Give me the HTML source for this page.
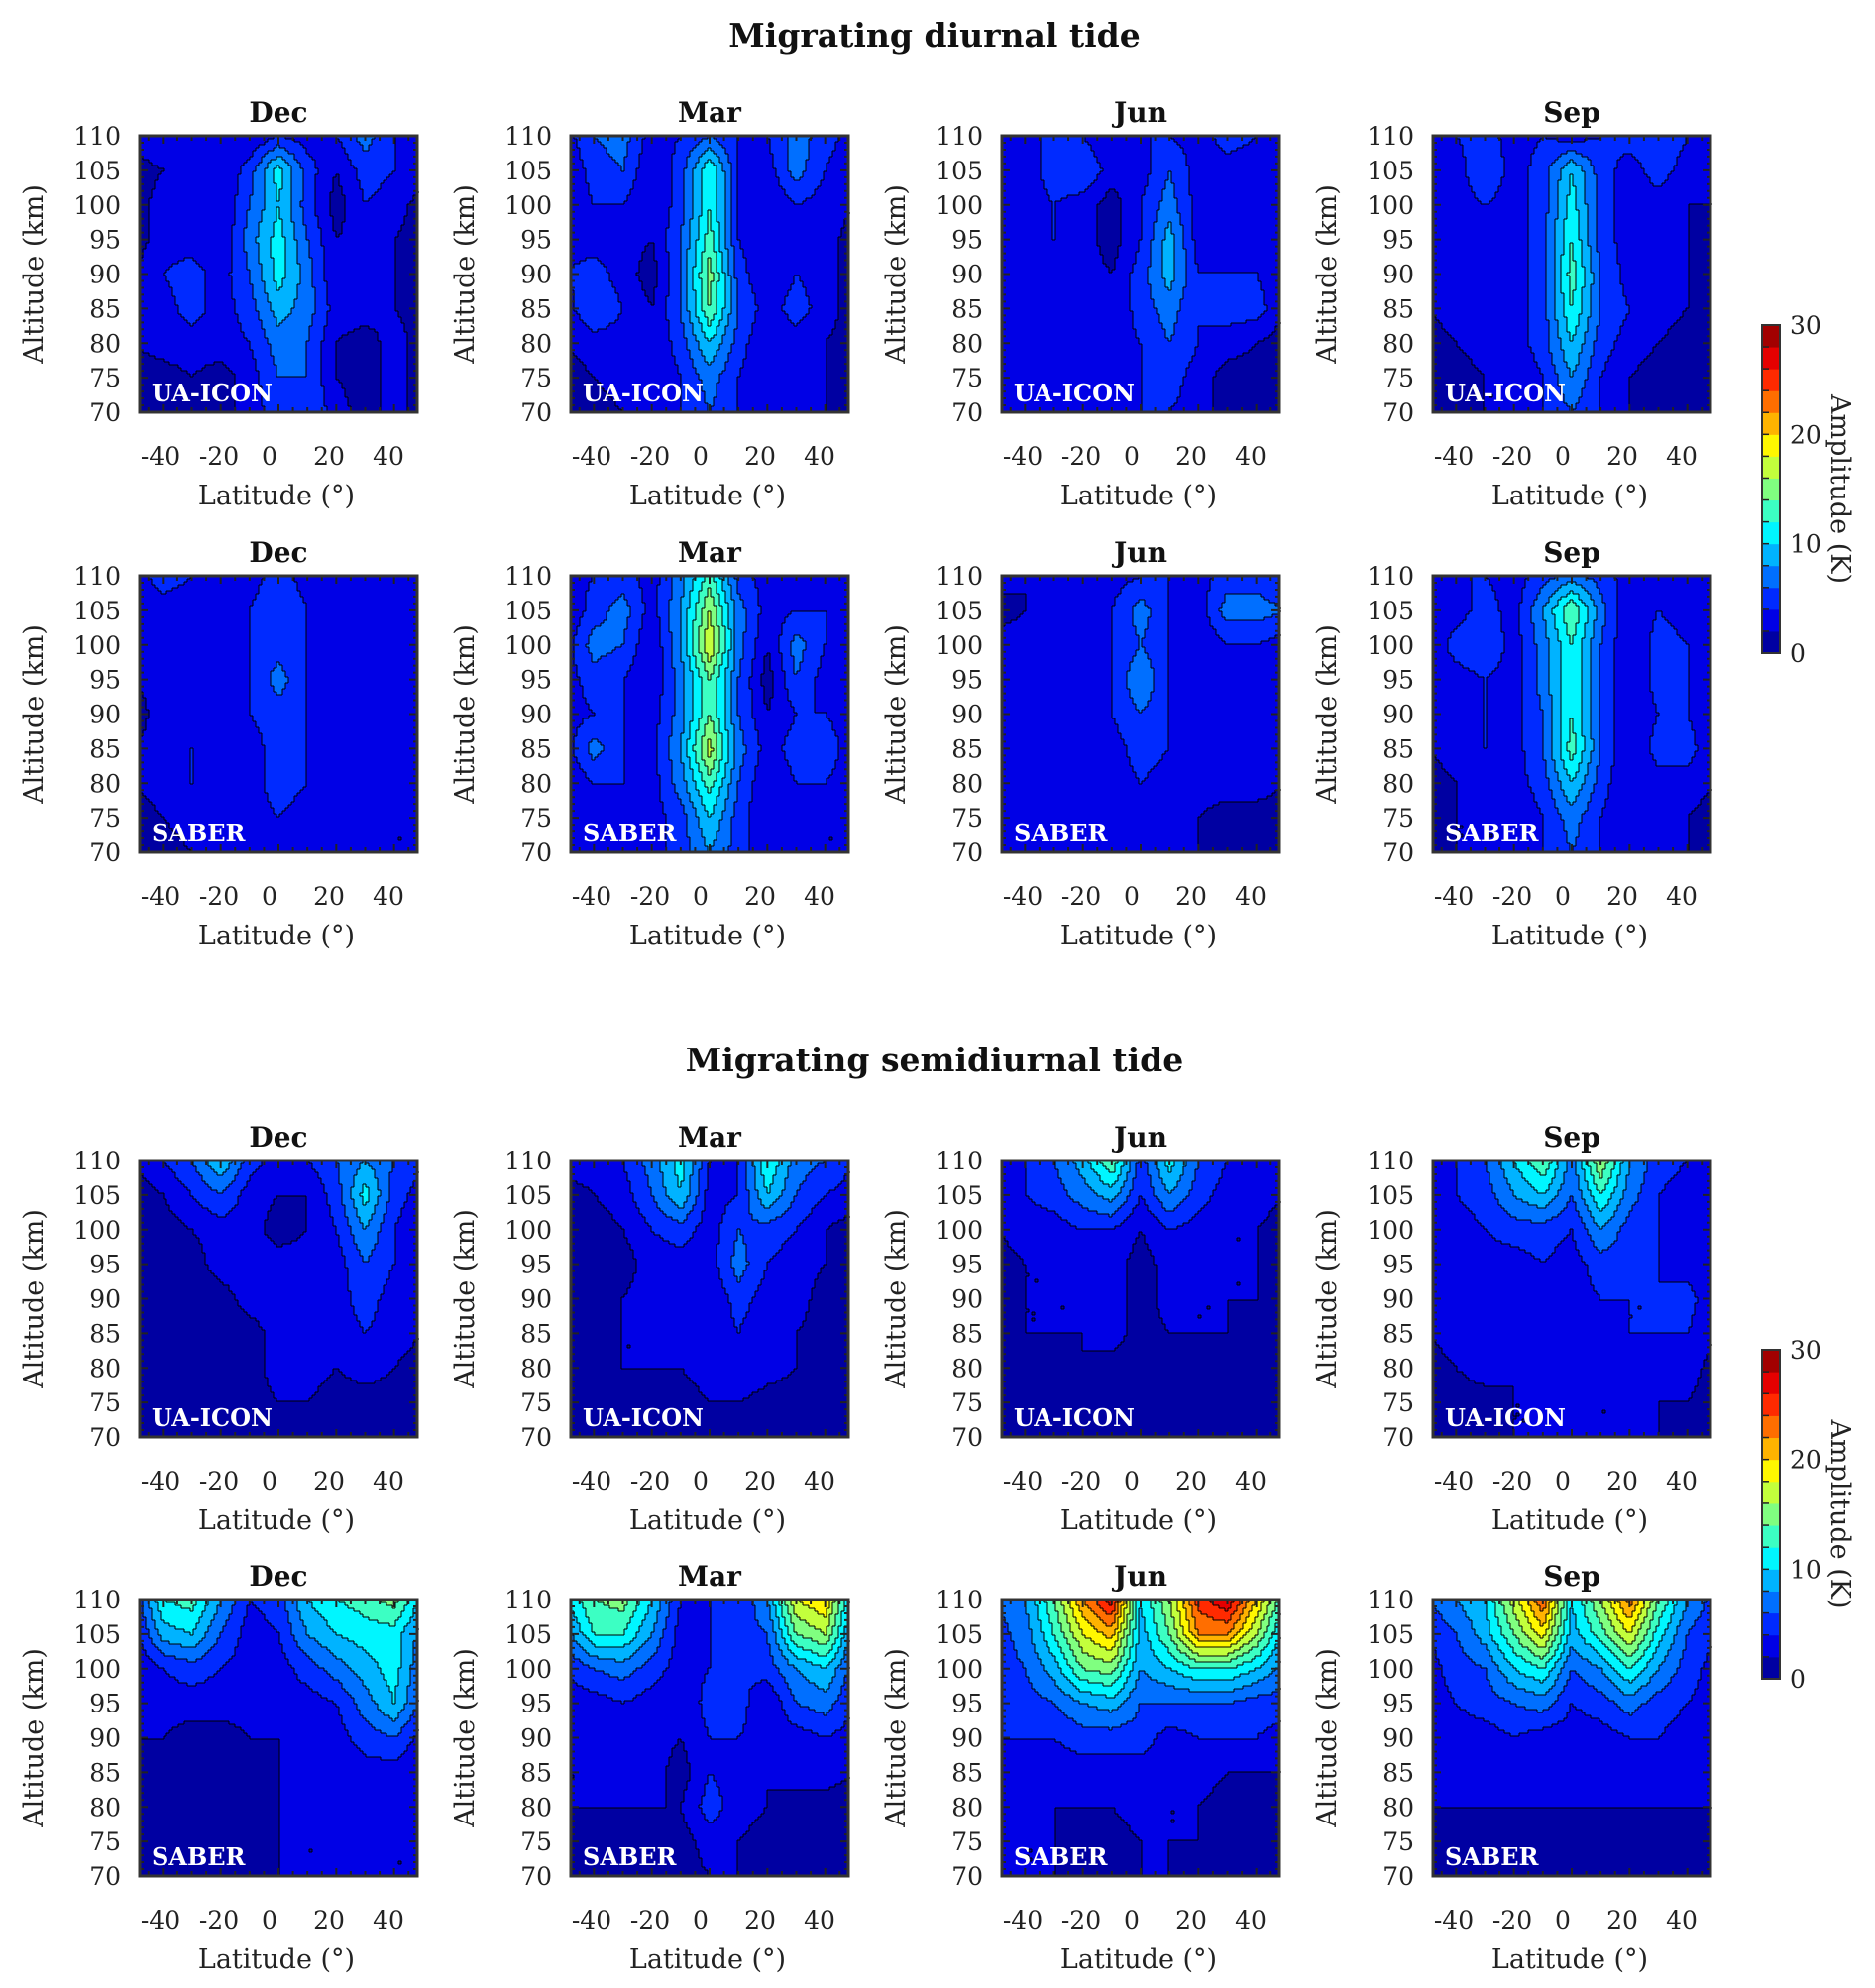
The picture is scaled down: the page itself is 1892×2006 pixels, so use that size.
<!DOCTYPE html>
<html><head><meta charset="utf-8">
<style>
body{margin:0;background:#fff;width:1892px;height:2006px;overflow:hidden;font-family:"DejaVu Serif","Liberation Serif",serif;}
svg{position:absolute;left:0;top:0}
text{font-family:"DejaVu Serif","Liberation Serif",serif;}
</style></head><body>
<svg id="fig" width="1892" height="2006" xmlns="http://www.w3.org/2000/svg"></svg>
<script>
const lats=[-50,-40,-30,-20,-10,0,10,20,30,40,50];
const alts=[110,105,100,95,90,85,80,75,70];
const levels=[0,2,4,6,8,10,12,14,16,18,20,22,24,26,28,30];
const xTicks=[-40,-20,0,20,40];
const yTicks=[110,105,100,95,90,85,80,75,70];
const months=["Dec","Mar","Jun","Sep"];
const dIconDec=[[3,4,3,3,2,4,3,4,7,4,3],[1,2,3,2,5,11,5,2,5,4,3],[1,3,4,2,6,10,5,1,4,3,1],[1,3,3,2,7,11,6,2,3,2,1],[2,4,5,3,6,11,7,2,3,2,1],[2,3,5,3,5,9,7,3,3,2,1],[2,3,3,3,4,7,6,2,1,3,1],[1,1,2,1,3,6,6,2,1,3,1],[1,1,1,1,3,5,6,3,1,3,1]];
const dIconMar=[[3,6,7,3,4,6,4,4,7,5,3],[2,5,6,2,5,12,4,3,7,4,2],[2,4,4,2,5,12,4,2,4,3,2],[3,3,3,2,6,13,4,2,3,3,1],[4,5,3,1,6,15,5,2,4,3,1],[3,6,4,2,6,14,6,3,5,3,1],[2,3,3,2,5,10,5,2,3,2,1],[1,2,3,2,4,7,4,2,2,2,1],[1,1,2,2,4,6,4,2,2,2,1]];
const dIconJun=[[2,3,5,4,2,4,4,3,5,4,3],[2,3,5,6,3,3,6,3,3,3,2],[2,3,4,3,1,4,7,3,3,3,2],[2,3,4,3,1,4,9,3,3,3,2],[2,3,3,3,2,5,9,4,4,4,2],[2,3,3,3,2,5,7,4,5,5,2],[2,3,3,3,3,4,6,4,3,2,1],[2,3,3,3,3,4,5,3,1,1,1],[2,3,3,3,3,4,4,3,1,1,1]];
const dIconSep=[[3,4,5,3,4,3,4,5,6,4,3],[2,3,6,3,5,10,5,3,5,3,2],[2,3,4,3,5,11,5,3,3,2,2],[2,3,3,3,5,12,5,3,3,2,1],[2,3,3,3,5,13,6,3,3,2,1],[2,3,3,3,5,12,6,4,3,2,1],[1,2,3,3,5,10,5,3,2,1,1],[1,1,2,2,4,8,4,2,1,1,1],[1,1,2,2,4,6,4,2,1,1,1]];
const dSabDec=[[3,5,4,3,3,5,3,3,3,4,3],[3,3,3,2,4,6,4,3,2,2,3],[2,4,3,2,4,5,4,3,2,3,3],[2,3,3,2,4,7,4,2,3,2,3],[1,3,3,2,4,5,4,3,2,2,2],[2,3,4,2,3,5,4,3,2,3,2],[2,3,4,2,3,5,4,3,2,3,2],[1,2,3,2,3,4,3,2,2,2,2],[1,1,2,2,3,4,3,2,2,2,2]];
const dSabMar=[[3,4,5,3,7,13,5,3,4,3,3],[2,5,7,3,8,16,7,3,4,4,2],[3,7,6,2,8,18,7,2,7,4,2],[3,5,4,2,7,14,6,1,6,3,2],[3,4,4,3,7,14,6,2,4,4,3],[3,7,4,3,8,17,7,3,5,5,3],[2,4,4,3,7,13,6,2,4,4,3],[2,3,3,3,5,10,5,2,3,2,2],[2,3,3,3,5,8,5,2,2,2,2]];
const dSabJun=[[3,2,3,4,3,4,4,3,5,5,4],[1,2,3,3,4,7,4,3,7,7,6],[3,3,3,3,4,6,4,2,4,4,3],[2,3,3,3,4,8,4,2,4,3,2],[2,3,3,3,4,6,4,2,3,3,3],[2,3,4,3,3,5,4,3,3,3,3],[2,3,3,3,3,4,3,3,3,3,2],[2,2,3,3,3,4,3,2,1,1,1],[2,2,3,3,3,4,3,2,1,1,1]];
const dSabSep=[[3,4,4,3,5,7,5,3,4,2,3],[2,3,5,3,8,14,7,2,4,3,3],[2,5,6,3,7,12,6,2,5,4,3],[2,3,4,3,7,12,6,2,5,4,2],[2,3,4,3,6,12,6,2,4,4,2],[2,3,4,3,6,13,6,2,5,5,2],[1,2,3,3,5,10,5,2,3,3,2],[1,2,2,2,4,7,4,2,2,2,1],[1,2,2,2,4,6,4,2,2,2,1]];
const sIconDec=[[2,4,6,10,5,3,4,6,8,6,4],[1,2,4,6,3,2,2,5,11,5,3],[1,1,2,3,3,1,2,4,8,4,2],[1,1,1,3,3,3,3,3,6,4,2],[1,1,1,1,3,3,3,3,5,3,2],[1,1,1,1,1,3,3,3,4,3,2],[1,1,1,1,1,3,3,2,3,2,1],[1,1,1,1,1,2,2,1,1,1,1],[1,1,1,1,1,2,1,1,1,1,1]];
const sIconMar=[[3,3,4,7,11,4,4,12,7,6,4],[1,2,3,6,10,3,4,10,6,4,3],[1,1,2,4,5,3,6,5,4,2,1],[1,1,1,3,3,3,7,4,3,2,1],[1,1,2,3,3,2,5,3,3,1,1],[1,1,2,2,3,2,4,2,2,1,1],[1,1,2,2,2,3,4,3,2,1,1],[1,1,1,1,1,2,2,1,1,1,1],[1,1,1,1,1,1,1,1,1,1,1]];
const sIconJun=[[3,4,6,9,14,5,11,6,4,4,4],[2,4,5,7,9,4,8,5,3,3,2],[2,3,3,4,4,2,4,3,2,2,1],[1,2,2,3,3,1,3,3,2,2,1],[1,2,2,2,3,1,3,2,2,2,1],[1,2,2,2,3,1,2,2,2,1,1],[1,2,1,2,1,1,2,1,1,1,1],[1,1,1,1,1,1,1,1,1,1,1],[1,1,1,1,1,1,1,1,1,1,1]];
const sIconSep=[[3,4,6,10,14,7,16,8,5,4,3],[2,4,5,8,10,6,12,7,4,3,2],[2,3,4,5,5,4,8,5,4,3,2],[2,3,3,3,4,3,5,5,4,3,2],[2,3,3,3,3,3,4,4,4,5,2],[2,3,3,3,3,3,3,4,4,4,2],[1,2,3,2,3,3,3,3,3,3,1],[1,1,1,2,2,2,2,2,2,2,1],[1,1,1,2,2,2,2,2,2,1,1]];
const sSabDec=[[4,12,13,8,4,5,10,12,13,15,9],[3,9,10,6,3,4,8,10,11,11,7],[2,4,5,4,3,3,5,7,9,11,6],[2,3,3,3,3,3,3,4,7,10,5],[2,2,1,1,2,2,3,3,5,6,3],[1,1,1,1,1,2,2,3,3,3,2],[1,1,1,1,1,2,3,2,3,2,2],[1,2,1,1,1,2,2,2,3,2,2],[1,2,1,1,1,2,2,2,2,2,2]];
const sSabMar=[[10,14,15,10,4,4,4,8,18,20,8],[7,12,12,8,3,4,5,6,14,16,7],[4,6,7,5,3,4,4,5,8,10,5],[3,3,4,3,2,5,5,2,6,7,4],[2,3,3,3,2,4,4,3,3,4,3],[2,2,3,3,1,4,3,2,3,3,2],[2,2,2,2,2,5,3,2,1,1,1],[1,1,1,2,1,3,2,1,1,1,1],[1,1,1,2,1,2,2,1,1,1,1]];
const sSabJun=[[6,8,14,22,27,10,16,25,28,20,12],[5,7,12,18,21,9,14,22,22,16,9],[5,6,9,14,15,8,10,12,12,10,7],[5,5,6,8,9,6,6,6,6,5,5],[4,4,4,5,5,5,3,4,4,4,3],[4,3,3,3,3,3,3,3,2,2,2],[2,2,2,2,2,3,2,2,1,1,1],[2,2,2,1,1,2,2,2,1,1,1],[2,2,2,1,1,2,2,1,1,1,1]];
const sSabSep=[[6,8,10,17,24,10,16,23,14,8,5],[4,6,9,14,19,9,13,18,11,6,4],[3,5,6,10,12,6,8,12,8,5,3],[3,4,5,6,7,4,5,7,5,4,3],[3,3,3,4,3,3,3,4,4,3,3],[3,3,3,3,3,2,3,3,3,3,2],[2,2,2,2,2,2,2,2,2,2,2],[1,1,1,1,1,1,1,1,1,1,1],[1,1,1,1,1,1,1,1,1,1,1]];

const NS="http://www.w3.org/2000/svg";
const svg=document.getElementById('fig');
function mk(tag,attrs,parent){const e=document.createElementNS(NS,tag);for(const k in attrs)e.setAttribute(k,attrs[k]);(parent||svg).appendChild(e);return e;}
function jet(i){const x=(i+0.5)/15;const c=v=>Math.round(255*Math.max(0,Math.min(1,v)));
 return `rgb(${c(1.5-Math.abs(4*x-3))},${c(1.5-Math.abs(4*x-2))},${c(1.5-Math.abs(4*x-1))})`;}
const colX=[141,576,1011,1446], rowY=[137,581,1171,1614], PW=280, PH=279;
const LATMIN=-48, LATMAX=48;
function xs(lat,L){return L+(lat-LATMIN)/(LATMAX-LATMIN)*PW;}
function ys(alt,T){return T+(110-alt)/40*PH;}
function sample(d,lat,alt){
 let fi=(lat-lats[0])/10, fj=(110-alt)/5;
 fi=Math.max(0,Math.min(lats.length-1.0001,fi)); fj=Math.max(0,Math.min(alts.length-1.0001,fj));
 const i=Math.floor(fi), j=Math.floor(fj), a=fi-i, b=fj-j;
 return d[j][i]*(1-a)*(1-b)+d[j][i+1]*a*(1-b)+d[j+1][i]*(1-a)*b+d[j+1][i+1]*a*b;}
function lev(v){let k=0;for(let i=1;i<levels.length-1;i++)if(v>=levels[i])k=i;return k;}

function panel(d,L,T,month,src,name){
 const g=mk('g',{});
 
 
 const C=3,nx=Math.ceil(PW/C),ny=Math.ceil(PH/C);const grid=[];
 for(let r=0;r<ny;r++){const row=[];for(let c=0;c<nx;c++){
   const px=L+(c+0.5)*C, py=T+(r+0.5)*C;
   const lat=LATMIN+(px-L)/PW*(LATMAX-LATMIN), alt=110-(py-T)/PH*40;
   row.push(lev(sample(d,lat,alt)));}grid.push(row);}
 for(let r=0;r<ny;r++){let c=0;while(c<nx){let e=c;while(e+1<nx&&grid[r][e+1]===grid[r][c])e++;
   const w=Math.min((e+1)*C,PW)-c*C,h=Math.min((r+1)*C,PH)-r*C;
   const rc=mk('rect',{x:L+c*C,y:T+r*C,width:w+0.4,height:h+0.4,fill:jet(grid[r][c])},g);
   
   
   c=e+1;}}
 let p='';
 for(let r=0;r<ny;r++)for(let c=0;c<nx;c++){
  if(c+1<nx&&grid[r][c]!==grid[r][c+1])p+=`M${L+(c+1)*C} ${T+r*C}v${C}`;
  if(r+1<ny&&grid[r][c]!==grid[r+1][c])p+=`M${L+c*C} ${T+(r+1)*C}h${C}`;}
 const cl=mk('path',{d:p,stroke:'#000','stroke-width':1,fill:'none'},g);
 
 
 let tk='';
 for(let lat=-45;lat<=45;lat+=5){const x=xs(lat,L);const len=(lat%20===0)?8:5;tk+=`M${x} ${T}v${len}M${x} ${T+PH}v${-len}`;}
 for(let a=71;a<110;a++){const y=ys(a,T);const len=(a%5===0)?8:4;tk+=`M${L} ${y}h${len}M${L+PW} ${y}h${-len}`;}
 const t=mk('path',{d:tk,stroke:'#222','stroke-width':2,fill:'none'},g);
 
 
 const fr=mk('rect',{x:L,y:T,width:PW,height:PH,fill:'none',stroke:'#333','stroke-width':3},g);
 
 
 const ti=mk('text',{x:L+PW/2,y:T-14,'text-anchor':'middle','font-size':28,'font-weight':'bold',fill:'#111'},g);ti.textContent=month;
 
 
 const lb=mk('text',{x:L+12,y:T+PH-11,'font-size':24,'font-weight':'bold',fill:'#fff'},g);lb.textContent=src;
 
 
 const xoff=[21,80,131,191,251];
 xTicks.forEach((v,i)=>{const e=mk('text',{x:L+xoff[i],y:T+PH+53,'text-anchor':'middle','font-size':25,fill:'#222'},g);e.textContent=v;
  
  });
 yTicks.forEach(v=>{const e=mk('text',{x:L-19,y:ys(v,T)+9,'text-anchor':'end','font-size':25,fill:'#222'},g);e.textContent=v;
  
  });
 const xl=mk('text',{x:L+PW/2-2,y:T+PH+93,'text-anchor':'middle','font-size':27,fill:'#222'},g);xl.textContent='Latitude (°)';
 
 
 const cy=T+PH/2, cx=L-108;
 const yl=mk('text',{x:cx,y:cy+10,'text-anchor':'middle','font-size':27,fill:'#222',transform:`rotate(-90 ${cx} ${cy})`},g);yl.textContent='Altitude (km)';
 
 
}
function colorbar(T,B){
 const g=mk('g',{});
 
 
 const x=1778,w=18,h=(B-T)/15;
 for(let i=0;i<15;i++){const r=mk('rect',{x:x,y:B-(i+1)*h,width:w,height:h+0.5,fill:jet(i)},g);
  
  
  if(i>0)mk('line',{x1:x,x2:x+7,y1:B-i*h,y2:B-i*h,stroke:'#222','stroke-width':1.5},g);}
 mk('rect',{x:x,y:T,width:w,height:B-T,fill:'none',stroke:'#333','stroke-width':2},g);
 [0,10,20,30].forEach(v=>{const e=mk('text',{x:x+28,y:B-(v/2)*h+9,'font-size':25,fill:'#222'},g);e.textContent=v;
  
  });
 const cy=(T+B)/2, cx=1858;
 const l=mk('text',{x:cx,y:cy+10,'text-anchor':'middle','font-size':27,fill:'#222',transform:`rotate(90 ${cx} ${cy})`},g);l.textContent='Amplitude (K)';
 
 
}
const t1=mk('text',{x:943,y:47,'text-anchor':'middle','font-size':33,'font-weight':'bold',fill:'#111'});t1.textContent='Migrating diurnal tide';


const t2=mk('text',{x:943,y:1081,'text-anchor':'middle','font-size':33,'font-weight':'bold',fill:'#111'});t2.textContent='Migrating semidiurnal tide';


const sets=[[dIconDec,dIconMar,dIconJun,dIconSep,'UA-ICON'],[dSabDec,dSabMar,dSabJun,dSabSep,'SABER'],[sIconDec,sIconMar,sIconJun,sIconSep,'UA-ICON'],[sSabDec,sSabMar,sSabJun,sSabSep,'SABER']];
sets.forEach((s,r)=>{for(let c=0;c<4;c++)panel(s[c],colX[c],rowY[r],months[c],s[4],'panel-'+(r<2?'diurnal':'semidiurnal')+'-'+s[4].toLowerCase()+'-'+months[c].toLowerCase());});
colorbar(328,659);
colorbar(1362,1694);
</script>
</body></html>
